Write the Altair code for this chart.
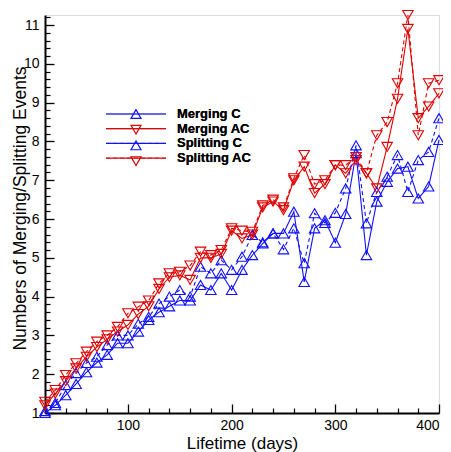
import altair as alt
import pandas as pd

days = list(range(20, 401, 10))

merging_c = [1.0, 1.2, 1.46, 1.75, 2.05, 2.3, 2.5, 2.8, 2.8, 3.1, 3.4, 3.6, 3.75, 3.9, 3.9,
             4.3, 4.17, 4.6, 4.17, 4.69, 5.07, 5.37, 5.63, 5.63, 6.19, 4.38, 5.76, 5.97,
             5.39, 6.13, 7.7, 5.07, 6.45, 6.96, 7.3, 7.35, 6.53, 6.84, 8.04]
splitting_c = [1.05, 1.26, 1.72, 2.03, 2.29, 2.45, 2.75, 3.0, 3.0, 3.3, 3.48, 3.82, 4.0, 4.17, 4.0,
               4.77, 4.6, 4.94, 4.69, 5.03, 5.59, 5.4, 5.63, 5.22, 5.76, 4.86, 6.15, 5.9,
               6.16, 6.79, 7.9, 5.89, 6.7, 7.09, 7.65, 6.7, 7.52, 7.73, 8.6]
merging_ac = [1.2, 1.5, 1.82, 2.15, 2.45, 2.7, 2.9, 3.1, 3.27, 3.55, 3.75, 4.2, 4.5, 4.55, 4.43,
              5.0, 5.0, 5.1, 5.7, 5.5, 5.6, 6.3, 6.45, 6.23, 7.0, 7.35, 6.67, 6.9,
              7.39, 7.18, 7.52, 7.18, 6.79, 7.86, 9.1, 10.9, 8.6, 8.9, 9.24]
splitting_ac = [1.29, 1.59, 1.98, 2.28, 2.58, 2.84, 3.0, 3.22, 3.57, 3.74, 3.9, 4.34, 4.6, 4.64, 4.8,
                5.16, 5.07, 5.2, 5.76, 5.7, 5.67, 6.35, 6.5, 6.3, 7.05, 7.65, 6.9, 7.0,
                7.39, 7.39, 7.6, 7.18, 8.16, 8.5, 9.5, 11.26, 8.16, 9.5, 9.58]

series_names = ["Merging C", "Merging AC", "Splitting C", "Splitting AC"]
series_values = [merging_c, merging_ac, splitting_c, splitting_ac]
series_colors = ["#1010ff", "#e00000", "#1010ff", "#e00000"]
series_dashes = [[1, 0], [1, 0], [4, 3], [4, 3]]
BLUE, RED = "#1010ff", "#e00000"

x_major = [100, 200, 300, 400]
x_minor = [v for v in range(40, 400, 20) if v % 100 != 0]
y_major = list(range(1, 12))
y_minor = [round(1 + i * 0.2, 1) for i in range(1, 52) if i % 5 != 0]


def long_frame(names, values):
    rows = []
    for name, vals in zip(names, values):
        for d, v in zip(days, vals):
            rows.append({"day": d, "value": v, "series": name, "marker": name + " "})
    return pd.DataFrame(rows)


df = long_frame(series_names, series_values)
df_c = long_frame(["Merging C", "Splitting C"], [merging_c, splitting_c])
df_ac = long_frame(["Merging AC", "Splitting AC"], [merging_ac, splitting_ac])

W, H = 394, 398
FONT = "Liberation Sans"

xscale = alt.Scale(domain=[20, 400], nice=False, zero=False)
yscale = alt.Scale(domain=[1, 11.26], nice=False, zero=False)

color_line = alt.Scale(domain=series_names, range=series_colors)
dash_scale = alt.Scale(domain=series_names, range=series_dashes)
color_pt_c = alt.Scale(domain=["Merging C ", "Splitting C "], range=[BLUE, BLUE])
color_pt_ac = alt.Scale(domain=["Merging AC ", "Splitting AC "], range=[RED, RED])

LX, LY = 84.5, 92.5
ROW = 15.7

line_legend = alt.Legend(
    title=None, orient="none", legendX=LX, legendY=LY,
    symbolType="M-6,0H6", symbolSize=100, symbolStrokeWidth=1.2,
    labelFont=FONT, labelFontWeight="bold", labelFontSize=13, labelColor="black",
    labelOffset=34.5, rowPadding=ROW - 15, padding=0,
)


def marker_legend(shape, dy):
    return alt.Legend(
        title=None, orient="none", legendX=LX, legendY=LY + dy,
        symbolType=shape, symbolSize=100, symbolStrokeWidth=1.2, symbolFillColor="transparent",
        labelFont=FONT, labelFontWeight="bold", labelFontSize=13, labelExpr="' '",
        labelOffset=34.5, rowPadding=2 * ROW - 15, padding=0,
    )


ax_x_lab = alt.Axis(values=x_major, ticks=False, tickSize=0, labelPadding=5.5, domainColor="black",
                    domainWidth=2, labelFont=FONT, labelFontSize=14, labelColor="black",
                    title="Lifetime (days)", titleFont=FONT, titleFontSize=17, titleFontWeight="normal",
                    titleColor="black", titleBaseline="alphabetic", titleY=35.5, grid=False)
ax_y_lab = alt.Axis(values=y_major, ticks=False, tickSize=0, labelPadding=6, domainColor="black",
                    domainWidth=2, labelFont=FONT, labelFontSize=14, labelColor="black",
                    title="Numbers of Merging/Splitting Events", titleFont=FONT, titleFontSize=17.5,
                    titleFontWeight="normal", titleColor="black", titleBaseline="alphabetic",
                    titleX=-20, titleY=193, grid=False)

ax_x_maj = alt.Axis(orient="top", offset=-H, values=x_major, tickSize=9, tickWidth=1.3, tickColor="black",
                    labels=False, domain=False, title=None, grid=False)
ax_y_maj = alt.Axis(orient="right", offset=-W, values=y_major, tickSize=9, tickWidth=1.3, tickColor="black",
                    labels=False, domain=False, title=None, grid=False)
ax_x_min = alt.Axis(orient="top", offset=-H, values=x_minor, tickSize=5, tickWidth=1.2, tickColor="black",
                    labels=False, domain=False, title=None, grid=False)
ax_y_min = alt.Axis(orient="right", offset=-W, values=y_minor, tickSize=5, tickWidth=1.2, tickColor="black",
                    labels=False, domain=False, title=None, grid=False)

lines = alt.Chart(df).mark_line(strokeWidth=1.1).encode(
    x=alt.X("day:Q", scale=xscale, axis=ax_x_lab),
    y=alt.Y("value:Q", scale=yscale, axis=ax_y_lab),
    color=alt.Color("series:N", scale=color_line, legend=line_legend, sort=series_names),
    strokeDash=alt.StrokeDash("series:N", scale=dash_scale, legend=line_legend, sort=series_names),
)

points_c = alt.Chart(df_c).mark_point(shape="triangle-up", size=110, filled=False, strokeWidth=1.1,
                                      opacity=1).encode(
    x=alt.X("day:Q", scale=xscale, axis=ax_x_maj),
    y=alt.Y("value:Q", scale=yscale, axis=ax_y_maj),
    color=alt.Color("marker:N", scale=color_pt_c, legend=marker_legend("triangle-up", 0)),
)

points_ac = alt.Chart(df_ac).mark_point(shape="triangle-down", size=110, filled=False, strokeWidth=1.1,
                                        opacity=1).encode(
    x=alt.X("day:Q", scale=xscale, axis=None),
    y=alt.Y("value:Q", scale=yscale, axis=None),
    color=alt.Color("marker:N", scale=color_pt_ac, legend=marker_legend("triangle-down", ROW)),
)

minor = alt.Chart(df).mark_point(opacity=0).encode(
    x=alt.X("day:Q", scale=xscale, axis=ax_x_min),
    y=alt.Y("value:Q", scale=yscale, axis=ax_y_min),
)

chart = alt.layer(lines, points_c, points_ac, minor).resolve_scale(
    color="independent"
).resolve_axis(
    x="independent", y="independent"
).properties(
    width=W, height=H,
    autosize=alt.AutoSizeParams(type="none"),
    padding={"left": 37, "top": 7, "right": 4, "bottom": 40},
).configure_view(stroke=None).configure(background="white")

chart.save("out.html", embed_options={"renderer": "svg", "actions": False})
